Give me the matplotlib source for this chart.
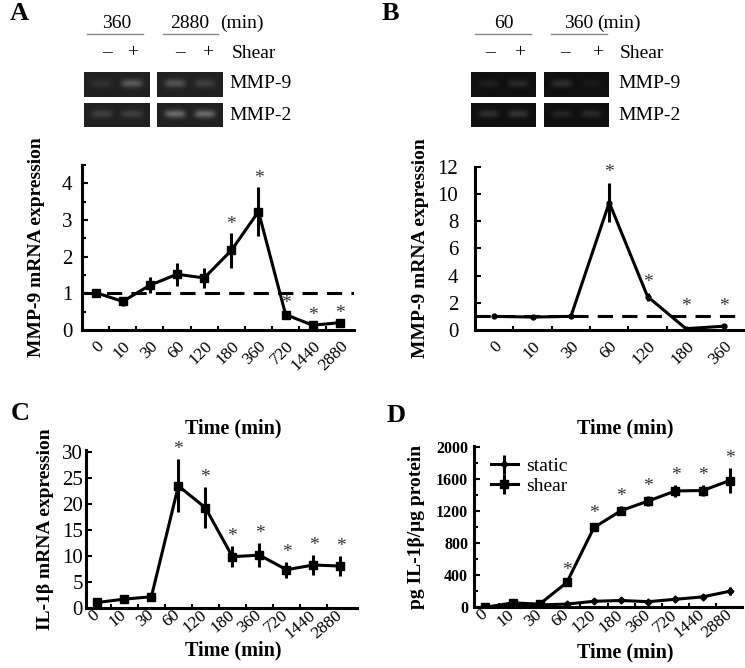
import numpy as np
import matplotlib
matplotlib.use("Agg")
import matplotlib.pyplot as plt
from matplotlib.ticker import MultipleLocator, FixedLocator

plt.rcParams['font.family'] = ['Liberation Serif', 'DejaVu Serif']

# ---------------- data ----------------
time_labels_long = ['0', '10', '30', '60', '120', '180', '360', '720', '1440', '2880']
time_labels_short = ['0', '10', '30', '60', '120', '180', '360']

mmp9_A_mean = [1.02, 0.78, 1.22, 1.52, 1.42, 2.17, 3.23, 0.42, 0.13, 0.20]
mmp9_A_err = [0.03, 0.12, 0.22, 0.32, 0.28, 0.47, 0.67, 0.06, 0.03, 0.03]
mmp9_A_sig = [False, False, False, False, False, True, True, True, True, True]

mmp9_B_mean = [1.0, 0.95, 1.0, 9.35, 2.45, 0.10, 0.28]
mmp9_B_err = [0.05, 0.12, 0.05, 1.45, 0.30, 0.05, 0.05]
mmp9_B_sig = [False, False, False, True, True, True, True]

il1b_C_mean = [1.0, 1.65, 2.1, 23.4, 19.2, 9.8, 10.1, 7.3, 8.2, 8.0]
il1b_C_err = [0.3, 0.3, 0.3, 5.1, 3.9, 2.0, 2.3, 1.5, 1.9, 1.9]
il1b_C_sig = [False, False, False, True, True, True, True, True, True, True]

shear_D_mean = [0, 55, 40, 310, 995, 1205, 1325, 1450, 1455, 1580]
shear_D_err = [10, 20, 15, 25, 45, 55, 60, 70, 70, 150]
static_D_mean = [0, 30, 30, 40, 75, 85, 70, 100, 130, 200]
static_D_err = [5, 10, 10, 10, 15, 15, 15, 20, 30, 50]
shear_D_sig = [False, False, False, True, True, True, True, True, True, True]

# gel band intensities (lane order: -, + ; blocks by time)
gelA_mmp9 = [[0.06, 0.22], [0.20, 0.12]]
gelA_mmp2 = [[0.12, 0.12], [0.28, 0.28]]
gelB_mmp9 = [[0.06, 0.10], [0.12, 0.04]]
gelB_mmp2 = [[0.12, 0.14], [0.08, 0.10]]

W, H = 745, 668
fig = plt.figure(figsize=(W / 100, H / 100), dpi=100)


def px_axes(l, r, t, b):
    return fig.add_axes([l / W, 1 - b / H, (r - l) / W, (b - t) / H])


def style_axes(ax, labels, xlim, rot=45, xsize=12.5, ysize=14, ypad=4,
               xva='top', xpad=6):
    for s in ['top', 'right']:
        ax.spines[s].set_visible(False)
    for s in ['left', 'bottom']:
        ax.spines[s].set_linewidth(2.2)
    n = len(labels)
    ax.set_xticks(range(n))
    ax.set_xticklabels(labels, rotation=rot, ha='right', va=xva,
                       rotation_mode='anchor')
    ax.xaxis.set_minor_locator(FixedLocator(np.arange(n - 1) + 0.5))
    ax.tick_params(axis='x', which='major', length=0, labelsize=xsize, pad=xpad)
    ax.tick_params(axis='x', which='minor', direction='in', length=3, width=1.5)
    ax.tick_params(axis='y', which='both', direction='in', width=1.5)
    ax.tick_params(axis='y', which='major', length=4, labelsize=ysize, pad=ypad)
    ax.tick_params(axis='y', which='minor', length=3)
    ax.set_xlim(*xlim)


def stars(ax, means, errs, sig, floor=None, pad=5):
    for i, (m, e, s) in enumerate(zip(means, errs, sig)):
        if not s:
            continue
        y = m + e
        if floor is not None:
            y = max(y, floor)
        ax.annotate('*', (i, y), xytext=(0, pad), textcoords='offset points',
                    ha='center', va='bottom', fontsize=14, color='#333333')


# ---------------- panel A ----------------
axA = px_axes(82, 353.5, 165, 330)
xA = np.arange(len(time_labels_long))
axA.errorbar(xA, mmp9_A_mean, yerr=mmp9_A_err, color='black', lw=2.2,
             marker='s', ms=6, elinewidth=2.2, capsize=0)
axA.axhline(mmp9_A_mean[0], color='black', lw=2.2, ls=(0, (5, 3)), zorder=0)
style_axes(axA, time_labels_long, (-0.5, 9.5), ysize=15, ypad=7)
axA.set_ylim(0, 4.5)
axA.set_yticks([0, 1, 2, 3, 4])
axA.yaxis.set_minor_locator(MultipleLocator(0.5))
stars(axA, mmp9_A_mean, mmp9_A_err, mmp9_A_sig, pad=0)
axA.set_ylabel('MMP-9 mRNA expression', fontsize=14, fontweight='bold', labelpad=12)

# ---------------- panel B ----------------
axB = px_axes(475, 743.5, 166.5, 330)
xB = np.arange(len(time_labels_short))
axB.errorbar(xB, mmp9_B_mean, yerr=mmp9_B_err, color='black', lw=2.2,
             marker='o', ms=3.5, elinewidth=2.2, capsize=0)
axB.axhline(mmp9_B_mean[0], color='black', lw=2.2, ls=(0, (5, 3)), zorder=0)
style_axes(axB, time_labels_short, (-0.5, 6.5), ysize=15, ypad=12)
axB.set_ylim(0, 12)
axB.set_yticks(range(0, 13, 2))
stars(axB, mmp9_B_mean, mmp9_B_err, mmp9_B_sig, floor=mmp9_B_mean[0], pad=1)
axB.set_ylabel('MMP-9 mRNA expression', fontsize=14, fontweight='bold', labelpad=6)

# ---------------- panel C ----------------
axC = px_axes(85.7, 356.7, 450, 607.7)
axC.errorbar(xA, il1b_C_mean, yerr=il1b_C_err, color='black', lw=2.2,
             marker='s', ms=6, elinewidth=2.2, capsize=0)
style_axes(axC, time_labels_long, (-0.43, 9.6), rot=40, xsize=12.5, ysize=15,
           ypad=2, xva='center', xpad=4)
axC.set_ylim(0, 30.3)
axC.set_yticks(range(0, 31, 5))
stars(axC, il1b_C_mean, il1b_C_err, il1b_C_sig, pad=1)
axC.set_ylabel('IL-1β mRNA expression', fontsize=14, fontweight='bold', labelpad=6)

# ---------------- panel D ----------------
axD = px_axes(473.7, 742, 446, 607.3)
axD.errorbar(xA, static_D_mean, yerr=static_D_err, color='black', lw=2.2,
             marker='D', ms=3.5, elinewidth=2.2, capsize=0, label='static')
axD.errorbar(xA, shear_D_mean, yerr=shear_D_err, color='black', lw=2.2,
             marker='s', ms=6, elinewidth=2.2, capsize=0, label='shear')
style_axes(axD, time_labels_long, (-0.43, 9.45), rot=40, xsize=12.5, ysize=11.5,
           ypad=4, xva='center', xpad=4)
axD.set_ylim(0, 2010)
axD.set_yticks(range(0, 2001, 400))
axD.yaxis.set_minor_locator(MultipleLocator(200))
for t in axD.get_yticklabels():
    t.set_fontweight('bold')
stars(axD, shear_D_mean, shear_D_err, shear_D_sig, pad=1)
axD.set_ylabel('pg IL-1β/μg protein', fontsize=14, fontweight='bold', labelpad=8)
leg = axD.legend(loc='upper left', frameon=False, fontsize=14, handlelength=1.4,
                 handletextpad=0.4, labelspacing=0.1, borderaxespad=0.2,
                 bbox_to_anchor=(0.02, 1.0))

# ---------------- overlay (gels, headers, letters) ----------------
ov = fig.add_axes([0, 0, 1, 1])
ov.axis('off')
ov.patch.set_visible(False)


def gel(x0, x1, y0, y1, lanes, bg):
    nx, ny = 66, 24
    xx = np.linspace(0, 1, nx)
    yy = np.linspace(0, 1, ny)
    X, Y = np.meshgrid(xx, yy)
    img = np.full((ny, nx), bg)
    for k, inten in enumerate(lanes):
        cx = 0.27 + 0.46 * k
        img += inten * np.exp(-((X - cx) / 0.16) ** 4 - ((Y - 0.45) / 0.17) ** 2)
    ov.imshow(img, cmap='gray', vmin=0, vmax=1, extent=[x0, x1, y1, y0],
              aspect='auto', interpolation='bilinear', zorder=2)


# panel A gels
gel(84, 150, 72, 97, gelA_mmp9[0], 0.13)
gel(157, 223, 72, 97, gelA_mmp9[1], 0.13)
gel(84, 150, 103, 127, gelA_mmp2[0], 0.13)
gel(157, 223, 103, 127, gelA_mmp2[1], 0.13)
# panel B gels
gel(471, 536, 72, 97, gelB_mmp9[0], 0.06)
gel(544, 609, 72, 97, gelB_mmp9[1], 0.06)
gel(471, 536, 103, 127, gelB_mmp2[0], 0.06)
gel(544, 609, 103, 127, gelB_mmp2[1], 0.06)
ov.set_xlim(0, W)
ov.set_ylim(H, 0)

txt = dict(fontsize=14, va='center', color='black')
# A header
ov.text(117, 23, '360', ha='center', **txt)
ov.plot([87, 143], [33.5, 33.5], color='#888888', lw=1)
ov.text(190, 23, '2880', ha='center', **txt)
ov.text(220, 23, '(min)', ha='left', **txt)
ov.plot([163, 218], [33.5, 33.5], color='#888888', lw=1)
for xx, s in zip([107, 133, 180, 208], ['–', '+', '–', '+']):
    ov.text(xx, 53, s, ha='center', **txt)
ov.text(232, 53, 'Shear', ha='left', **txt)
ov.text(229, 84, 'MMP-9', ha='left', **txt)
ov.text(229, 115, 'MMP-2', ha='left', **txt)
# B header
ov.text(503.5, 23, '60', ha='center', **txt)
ov.plot([475, 531], [33.5, 33.5], color='#888888', lw=1)
ov.text(579, 23, '360', ha='center', **txt)
ov.text(597, 23, '(min)', ha='left', **txt)
ov.plot([551, 607], [33.5, 33.5], color='#888888', lw=1)
for xx, s in zip([490, 520, 565, 598], ['–', '+', '–', '+']):
    ov.text(xx, 53, s, ha='center', **txt)
ov.text(620, 53, 'Shear', ha='left', **txt)
ov.text(618, 84, 'MMP-9', ha='left', **txt)
ov.text(618, 115, 'MMP-2', ha='left', **txt)

# x labels
xl = dict(ha='center', va='center', fontsize=14.5, fontweight='bold')
ov.text(233, 428, 'Time (min)', **xl)
ov.text(625, 428, 'Time (min)', **xl)
ov.text(233, 650, 'Time (min)', **xl)
ov.text(625, 652, 'Time (min)', **xl)

# panel letters
let = dict(fontsize=19, fontweight='bold', va='center', ha='center')
ov.text(19, 14, 'A', **let)
ov.text(390, 14, 'B', **let)
ov.text(20, 414, 'C', **let)
ov.text(396, 416, 'D', **let)

fig.savefig('out.png', dpi=100)
